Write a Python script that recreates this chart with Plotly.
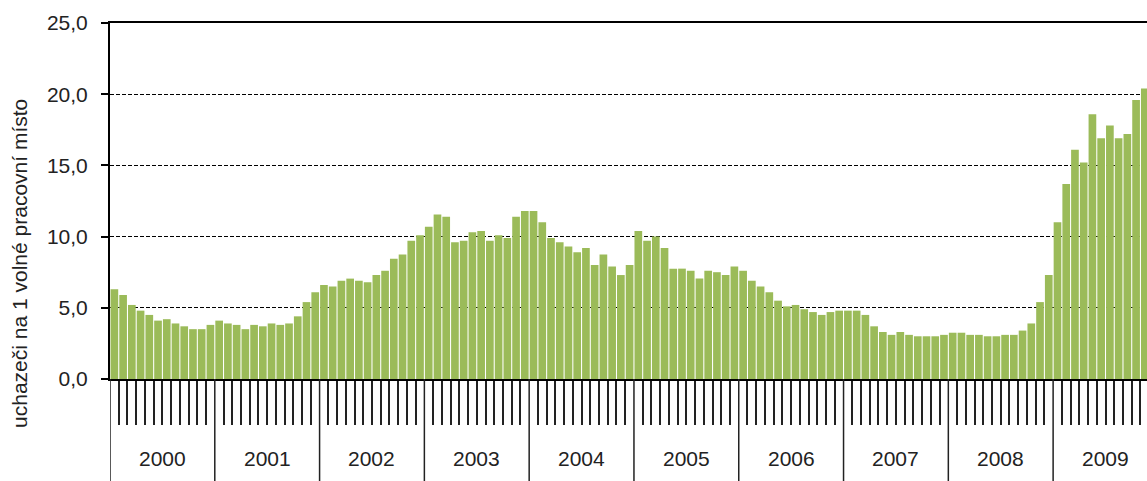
import plotly.graph_objects as go

# Monthly values (uchazeči na 1 volné pracovní místo), Jan..Dec per year
years = [2000, 2001, 2002, 2003, 2004, 2005, 2006, 2007, 2008, 2009]
v2000 = [6.3, 5.9, 5.2, 4.8, 4.5, 4.1, 4.2, 3.9, 3.7, 3.5, 3.5, 3.8]
v2001 = [4.1, 3.9, 3.8, 3.5, 3.8, 3.7, 3.9, 3.8, 3.9, 4.4, 5.4, 6.1]
v2002 = [6.6, 6.5, 6.9, 7.05, 6.9, 6.8, 7.3, 7.6, 8.45, 8.75, 9.7, 10.1]
v2003 = [10.7, 11.55, 11.4, 9.6, 9.7, 10.3, 10.4, 9.7, 10.1, 9.9, 11.4, 11.8]
v2004 = [11.8, 11.0, 9.9, 9.6, 9.3, 8.9, 9.2, 8.0, 8.75, 7.9, 7.3, 8.0]
v2005 = [10.4, 9.7, 10.0, 9.2, 7.75, 7.75, 7.6, 7.05, 7.6, 7.5, 7.3, 7.9]
v2006 = [7.6, 6.9, 6.5, 6.1, 5.5, 5.1, 5.2, 4.9, 4.7, 4.5, 4.7, 4.8]
v2007 = [4.8, 4.8, 4.5, 3.7, 3.3, 3.1, 3.3, 3.1, 3.0, 3.0, 3.0, 3.1]
v2008 = [3.25, 3.25, 3.1, 3.1, 3.0, 3.0, 3.1, 3.1, 3.4, 3.9, 5.4, 7.3]
v2009 = [11.0, 13.7, 16.1, 15.2, 18.6, 16.9, 17.8, 16.9, 17.2, 19.6, 20.4]

y_ticks = [0, 5, 10, 15, 20, 25]
y_title = "uchazeči na 1 volné pracovní místo"

series = [v2000, v2001, v2002, v2003, v2004, v2005, v2006, v2007, v2008, v2009]
values = [v for yr in series for v in yr]
x = list(range(len(values)))
n_months = 12 * len(years)

FONT = "Liberation Sans, Arial, sans-serif"
TXT = "#222222"

fig = go.Figure(go.Bar(x=x, y=values, marker=dict(color="#9BBB59", line=dict(width=0)),
                       hoverinfo="skip"))

month_bounds = [k - 0.5 for k in range(1, n_months) if k % 12 != 0]
year_bounds = [12 * k - 0.5 for k in range(len(years))]

fig.update_layout(
    width=1147, height=481,
    margin=dict(l=110, r=0, t=23, b=102),
    paper_bgcolor="white", plot_bgcolor="white",
    separators=", ",
    showlegend=False,
    bargap=0.12,
    font=dict(family=FONT, size=21, color=TXT),
)
fig.update_xaxes(
    range=[-0.5, 118.25], showgrid=False, zeroline=False,
    showline=True, linecolor="black", linewidth=2, mirror=True,
    ticks="outside", tickvals=month_bounds, ticklen=44, tickwidth=1.5,
    tickcolor="#222", showticklabels=False, automargin=False,
)
fig.update_yaxes(
    range=[0, 25], tickvals=y_ticks, tickformat=".1f",
    showline=True, linecolor="black", linewidth=2,
    ticks="outside", ticklen=7, tickwidth=1.5, tickcolor="black",
    ticklabelstandoff=9, automargin=False,
    showgrid=True, gridcolor="black", gridwidth=1, griddash="4px,2px",
    zeroline=False, tickfont=dict(size=21, color=TXT),
)

shapes = []
for b in year_bounds:
    shapes.append(dict(type="line", xref="x", yref="paper", x0=b, x1=b,
                       y0=0, y1=-0.3, line=dict(color="#222", width=1.5)))
fig.update_layout(shapes=shapes)

annotations = []
for i, yr in enumerate(years):
    annotations.append(dict(x=12 * i + 5.5, y=-0.224, xref="x", yref="paper",
                            text=str(yr), showarrow=False, xanchor="center",
                            yanchor="middle", font=dict(size=21, color=TXT)))
annotations.append(dict(x=-0.0868, y=0.326, xref="paper", yref="paper",
                        text=y_title, textangle=-90, showarrow=False,
                        xanchor="center", yanchor="middle",
                        font=dict(size=21, color=TXT)))
fig.update_layout(annotations=annotations)

fig.write_html("out.html", config={"displayModeBar": False},
               post_script="document.body.style.margin='0';document.body.style.padding='0';")
